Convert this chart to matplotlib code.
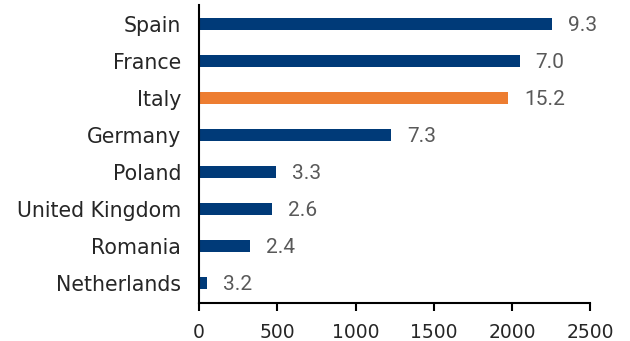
import matplotlib
matplotlib.use("Agg")
import matplotlib.pyplot as plt

countries = ["Spain", "France", "Italy", "Germany", "Poland",
             "United Kingdom", "Romania", "Netherlands"]
values = [2255, 2048, 1976, 1226, 492, 467, 324, 53]
shares = ["9.3", "7.0", "15.2", "7.3", "3.3", "2.6", "2.4", "3.2"]
highlight = "Italy"

navy = "#003A78"
orange = "#ED7D31"

fig = plt.figure(figsize=(6.3, 3.41), dpi=100)
ax = fig.add_axes([0.316, 0.111, 0.621, 0.874])

ypos = list(range(len(countries)))
colors = [orange if c == highlight else navy for c in countries]
bars = ax.barh(ypos, values, height=0.32, color=colors)

for b, s in zip(bars, shares):
    ax.annotate(s, (b.get_width(), b.get_y() + b.get_height() / 2),
                xytext=(16, -2), textcoords="offset pixels",
                ha="left", va="center", fontsize=15, color="#595959",
                family="Roboto")

ax.set_xlim(0, 2500)
ax.set_ylim(len(countries) - 0.45, -0.5)
ax.set_xticks([0, 500, 1000, 1500, 2000, 2500])
ax.set_yticks(ypos)
ax.set_yticklabels(countries, family="DejaVu Sans", fontsize=14.8,
                   color="#262626")
for lbl in ax.get_xticklabels():
    lbl.set_family("DejaVu Sans")
    lbl.set_fontsize(13.5)
    lbl.set_color("#262626")

ax.tick_params(axis="y", length=0, pad=13)
ax.tick_params(axis="x", length=6, width=1.5, direction="out", pad=8)
for side in ("top", "right"):
    ax.spines[side].set_visible(False)
for side in ("left", "bottom"):
    ax.spines[side].set_linewidth(1.5)
    ax.spines[side].set_color("#000000")

fig.savefig("out.png", dpi=100)
